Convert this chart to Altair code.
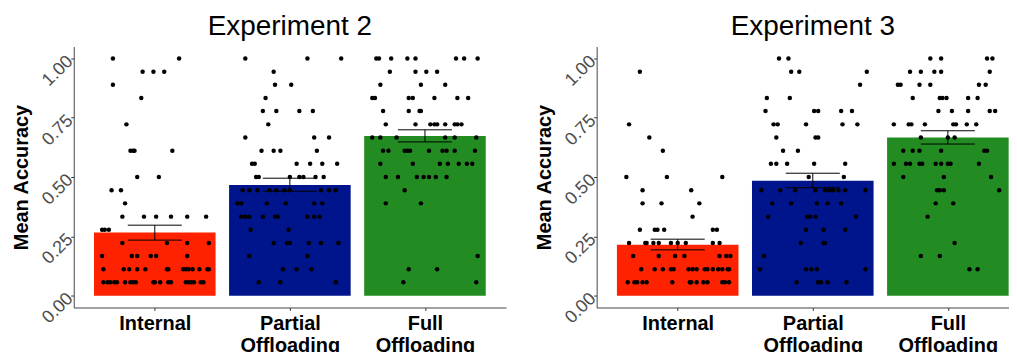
import altair as alt
import pandas as pd

conditions = ["Internal", "Partial Offloading", "Full Offloading"]
bar_colors = ["#FF2200", "#00148C", "#228B22"]

# Bar heights (mean accuracy) and standard-error bounds
exp2_mean = [0.266, 0.466, 0.673]
exp2_lo = [0.234, 0.440, 0.648]
exp2_hi = [0.297, 0.495, 0.699]
exp3_mean = [0.215, 0.484, 0.667]
exp3_lo = [0.193, 0.455, 0.639]
exp3_hi = [0.238, 0.516, 0.695]

# Individual participant points: accuracy level -> horizontal jitter offsets
exp2_internal = {
    1.000: [-0.31, 0.18],
    0.944: [-0.09, -0.01, 0.07],
    0.889: [-0.31],
    0.833: [-0.10],
    0.722: [-0.21],
    0.611: [-0.18, -0.16, -0.15, 0.13],
    0.500: [-0.13, 0.03],
    0.444: [-0.32, -0.25],
    0.389: [-0.22],
    0.333: [-0.24, -0.08, 0.01, 0.12, 0.24, 0.38],
    0.278: [-0.39, -0.37, -0.34],
    0.222: [-0.24, 0.09, 0.24, 0.40],
    0.167: [-0.39, -0.17, -0.13, -0.03, 0.01, 0.24],
    0.111: [-0.38, -0.23, -0.19, -0.13, -0.07, 0.09, 0.10, 0.21, 0.23, 0.25, 0.28, 0.33, 0.39, 0.40],
    0.056: [-0.38, -0.35, -0.33, -0.30, -0.28, -0.22, -0.18, -0.16, -0.14, -0.01, 0.00, 0.04, 0.10, 0.12,
            0.23, 0.25, 0.27, 0.29, 0.34, 0.36],
}
exp2_partial = {
    1.000: [-0.33, 0.13, 0.38],
    0.944: [-0.12],
    0.889: [-0.11, 0.01],
    0.833: [-0.18],
    0.778: [-0.20, -0.10, 0.07, 0.17],
    0.722: [-0.16],
    0.667: [-0.33, 0.18, 0.29],
    0.611: [-0.21, -0.12, -0.07, 0.20],
    0.556: [-0.28, -0.26, 0.05, 0.15, 0.24, 0.35],
    0.500: [-0.25, -0.23, 0.00, 0.07, 0.10, 0.19, 0.25],
    0.444: [-0.35, -0.30, -0.24, -0.15, -0.10, -0.04, 0.00, 0.23, 0.29, 0.34],
    0.389: [-0.39, -0.36, -0.17, -0.03, 0.18, 0.24],
    0.333: [-0.36, -0.33, -0.30, -0.20, -0.11, -0.09, 0.13, 0.18, 0.22],
    0.278: [-0.29, -0.01],
    0.222: [-0.12, -0.02, 0.00, 0.14, 0.23, 0.36],
    0.167: [-0.30, 0.13],
    0.111: [-0.05, 0.05, 0.16],
    0.056: [-0.23, -0.07, 0.34],
}
exp2_full = {
    1.000: [-0.36, -0.34, -0.25, -0.13, -0.07, 0.23, 0.29, 0.39],
    0.944: [-0.26, -0.07, 0.01, 0.09],
    0.889: [-0.33, -0.03, 0.15],
    0.833: [-0.39, -0.37, -0.12, -0.09, 0.07, 0.24, 0.32],
    0.778: [-0.31, -0.12, -0.04, -0.03],
    0.722: [-0.29, -0.07, 0.04, 0.07, 0.09, 0.15, 0.22, 0.24, 0.27],
    0.667: [-0.39, -0.33, -0.21, 0.15, 0.22, 0.38],
    0.611: [-0.31, -0.27, -0.15, -0.13, -0.11, 0.03, 0.13, 0.16, 0.22, 0.37],
    0.556: [-0.33, -0.09, 0.11, 0.17, 0.25, 0.31, 0.35],
    0.500: [-0.29, -0.20, -0.06, -0.01, 0.03, 0.08, 0.16],
    0.444: [-0.15],
    0.389: [-0.29, -0.03],
    0.167: [0.39],
    0.111: [-0.12, 0.09],
    0.056: [-0.16, 0.38],
}
exp3_internal = {
    0.944: [-0.28],
    0.722: [-0.36],
    0.667: [-0.21],
    0.611: [-0.11],
    0.500: [-0.38, -0.08, 0.33],
    0.444: [-0.26, 0.10],
    0.389: [-0.26, -0.12, 0.16],
    0.333: [0.11],
    0.278: [-0.28, -0.17, -0.15, -0.10, 0.26, 0.29],
    0.222: [-0.36, -0.24, -0.23, -0.18, -0.14, -0.05, 0.00, 0.06, 0.26, 0.31],
    0.167: [-0.33, -0.14, -0.02, 0.05, 0.31, 0.36, 0.39],
    0.111: [-0.27, -0.17, -0.11, -0.05, -0.03, 0.08, 0.11, 0.14, 0.20, 0.22, 0.26, 0.30, 0.33, 0.37, 0.38],
    0.056: [-0.37, -0.32, -0.30, -0.26, -0.23, -0.04, 0.09, 0.10, 0.14, 0.19, 0.22, 0.33, 0.35, 0.38],
}
exp3_partial = {
    1.000: [-0.25, -0.18],
    0.944: [-0.16, -0.10, 0.40],
    0.889: [0.35],
    0.833: [-0.34, -0.17],
    0.778: [-0.35, 0.01, 0.04, 0.21, 0.29],
    0.722: [-0.29, -0.26, -0.05, 0.22, 0.33],
    0.667: [-0.27, 0.02, 0.04],
    0.611: [-0.22, -0.11],
    0.556: [-0.31, -0.27, -0.19, 0.01, 0.24],
    0.500: [-0.03, 0.23],
    0.444: [-0.38, -0.24, -0.13, 0.02, 0.09, 0.12, 0.15, 0.19, 0.24, 0.39],
    0.389: [-0.30, -0.16, 0.03, 0.11, 0.21],
    0.333: [-0.33, -0.04, -0.02, 0.02, 0.32],
    0.278: [-0.05, 0.08, 0.24],
    0.222: [-0.09, 0.08, 0.09],
    0.167: [-0.36],
    0.111: [-0.39, -0.05, -0.01, 0.03, 0.39],
    0.056: [-0.12, 0.04, 0.06, 0.11, 0.25],
}
exp3_full = {
    1.000: [-0.13, -0.05, 0.29, 0.33],
    0.944: [-0.28, -0.20, -0.10, -0.05, 0.31],
    0.889: [-0.37, -0.35, -0.21, -0.13, 0.23, 0.28],
    0.833: [-0.26, -0.06, -0.04, -0.01, 0.15, 0.22],
    0.778: [-0.07, 0.03, 0.15, 0.31, 0.35],
    0.722: [-0.40, -0.29, -0.27, -0.17, 0.04, 0.06, 0.14, 0.21],
    0.667: [-0.20, 0.00, 0.05],
    0.611: [-0.33, -0.26, -0.21, -0.05, 0.27, 0.29],
    0.556: [-0.40, -0.31, -0.28, -0.21, -0.19, -0.09, -0.05, 0.00, 0.02, 0.23],
    0.500: [-0.33, -0.03, 0.32],
    0.444: [-0.08, -0.06, -0.03, 0.38],
    0.389: [-0.09, 0.04],
    0.333: [-0.15],
    0.222: [0.05],
    0.167: [-0.20, -0.06],
    0.111: [0.16, 0.22],
}

BAR_HALF = 0.45
CAP_HALF = 0.2
FONT = "Liberation Sans"


def build_points(groups):
    rows = []
    for i, grp in enumerate(groups):
        pos = i + 1
        for acc, offs in grp.items():
            for o in offs:
                rows.append({"x": pos + o, "acc": acc})
    return pd.DataFrame(rows)


def build_bars(means, los, his):
    rows = []
    for i, c in enumerate(conditions):
        pos = i + 1
        rows.append({
            "cond": c, "pos": pos, "x0": pos - BAR_HALF, "x1": pos + BAR_HALF,
            "c0": pos - CAP_HALF, "c1": pos + CAP_HALF,
            "mean": means[i], "lo": los[i], "hi": his[i],
        })
    return pd.DataFrame(rows)


label_expr = ("datum.value == 1 ? 'Internal' : datum.value == 2 ? ['Partial', 'Offloading'] : "
              "['Full', 'Offloading']")


def panel(title, groups, means, los, his, xmax, title_dx, pwidth):
    pts = build_points(groups)
    bars = build_bars(means, los, his)
    xscale = alt.Scale(domain=[0.4, xmax], nice=False, zero=False)
    yscale = alt.Scale(domain=[-0.05, 1.05], nice=False, zero=False)
    xaxis = alt.Axis(values=[1, 2, 3], labelExpr=label_expr, title=None, grid=False,
                     labelFont=FONT, labelFontSize=20, labelFontWeight="bold", labelColor="black",
                     labelLineHeight=22, labelPadding=3, tickSize=3, tickColor="#333",
                     domainColor="#444", labelAngle=0, labelAlign="center", labelBaseline="top")
    yaxis = alt.Axis(values=[0, 0.25, 0.5, 0.75, 1.0], format=".2f", title="Mean Accuracy",
                     grid=False, labelFont=FONT, labelFontSize=18, labelColor="#4D4D4D",
                     labelAngle=-45, labelAlign="right", labelBaseline="middle", labelPadding=1,
                     tickSize=3, tickColor="#333", domainColor="#444",
                     titleFont=FONT, titleFontSize=20, titleFontWeight="bold", titleColor="black",
                     titlePadding=4, minExtent=38, maxExtent=38)

    bar = alt.Chart(bars).mark_bar(opacity=1).encode(
        x=alt.X("x0:Q", scale=xscale, axis=xaxis),
        x2="x1",
        y=alt.Y("mean:Q", scale=yscale, axis=yaxis),
        y2=alt.datum(0),
        color=alt.Color("cond:N", scale=alt.Scale(domain=conditions, range=bar_colors), legend=None),
    )
    dots = alt.Chart(pts).mark_circle(size=20, color="black", opacity=1).encode(
        x=alt.X("x:Q", scale=xscale),
        y=alt.Y("acc:Q", scale=yscale),
    )
    err = alt.Chart(bars).mark_rule(color="black", strokeWidth=1).encode(
        x=alt.X("pos:Q", scale=xscale), y=alt.Y("lo:Q", scale=yscale), y2="hi")
    cap_lo = alt.Chart(bars).mark_rule(color="black", strokeWidth=1).encode(
        x=alt.X("c0:Q", scale=xscale), x2="c1", y=alt.Y("lo:Q", scale=yscale))
    cap_hi = alt.Chart(bars).mark_rule(color="black", strokeWidth=1).encode(
        x=alt.X("c0:Q", scale=xscale), x2="c1", y=alt.Y("hi:Q", scale=yscale))

    return alt.layer(bar, dots, err, cap_lo, cap_hi).properties(
        width=pwidth, height=262,
        title=alt.TitleParams(title, font=FONT, fontSize=28, fontWeight="normal", color="black",
                              anchor="middle", offset=6, dx=title_dx),
    )


p1 = panel("Experiment 2", [exp2_internal, exp2_partial, exp2_full],
           exp2_mean, exp2_lo, exp2_hi, 3.6, 0, 434)
p2 = panel("Experiment 3", [exp3_internal, exp3_partial, exp3_full],
           exp3_mean, exp3_lo, exp3_hi, 0.4 + 414 / 135.625, 10, 414)

chart = alt.hconcat(p1, p2, spacing=29).properties(
    padding={"left": 4, "top": 4, "right": 0, "bottom": 0},
    background="white",
).configure_view(strokeWidth=0, stroke=None)

chart.save("out.html", embed_options={"renderer": "svg", "actions": False})
